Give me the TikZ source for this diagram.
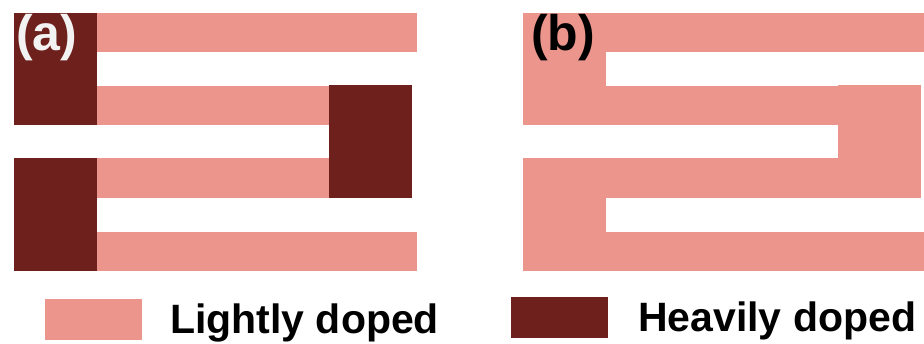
\documentclass[tikz,border=0pt]{standalone}
\usepackage{fontspec}
\setmainfont{Liberation Sans}
\definecolor{lightdop}{HTML}{EC958D}
\definecolor{heavydop}{HTML}{6D201C}
\begin{document}
\begin{tikzpicture}[x=1pt,y=-1pt,
  lite/.style={fill=lightdop},
  heavy/.style={fill=heavydop},
  panellabel/.style={anchor=base west,inner sep=0pt,font=\bfseries\fontsize{50}{50}\selectfont},
  legendtext/.style={anchor=base west,inner sep=0pt,font=\bfseries\fontsize{41}{41}\selectfont}]
\useasboundingbox (0,0) rectangle (924,344);

% (a) interdigitated contacts with heavily doped fingers
\fill[lite]  (97,13)  rectangle (417,52);
\fill[heavy] (14,13)  rectangle (97,125);
\fill[lite]  (97,86)  rectangle (329,125);
\fill[heavy] (329,85) rectangle (412,198);
\fill[lite]  (97,158) rectangle (329,198);
\fill[heavy] (14,158) rectangle (97,271);
\fill[lite]  (97,232) rectangle (417,271);
\node[panellabel,text=white!95!black] (la) at (16,51) {(a)};

% (b) the same layout, lightly doped throughout
\fill[lite] (523,13)  rectangle (924,52);
\fill[lite] (523,13)  rectangle (606,125);
\fill[lite] (523,86)  rectangle (838,125);
\fill[lite] (838,85)  rectangle (921,198);
\fill[lite] (523,158) rectangle (838,198);
\fill[lite] (523,158) rectangle (606,271);
\fill[lite] (606,232) rectangle (924,271);
\node[panellabel,text=black] (lb) at (531,51) {(b)};

% legend
\fill[lite]  (45,299)  rectangle (142,340);
\node[legendtext] (tl) at (170,334) {Lightly doped};
\fill[heavy] (511,297) rectangle (608,338);
\node[legendtext] (th) at (638,332) {Heavily doped};
\end{tikzpicture}
\end{document}
